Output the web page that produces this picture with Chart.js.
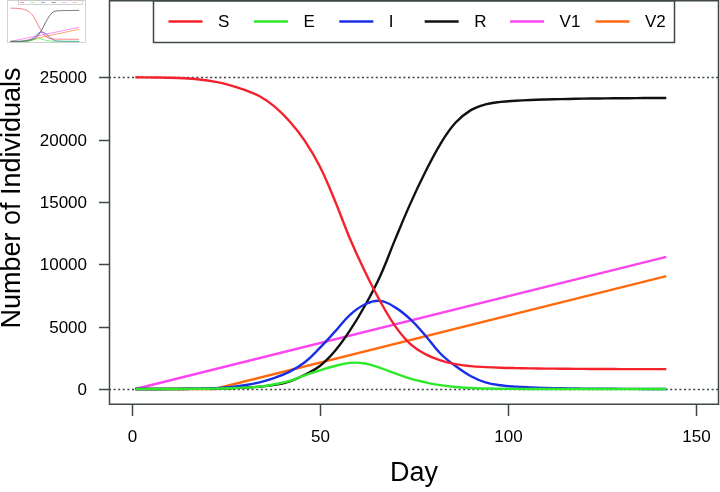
<!DOCTYPE html>
<html>
<head>
<meta charset="utf-8">
<script src="https://cdn.jsdelivr.net/npm/chart.js@4.4.1/dist/chart.umd.min.js"></script>
<style>
  body { margin: 0; background: #fff; }
  #wrap { position: relative; width: 720px; height: 492px; }
  #thumb { position: absolute; left: 0; top: 0; }
</style>
</head>
<body>
<div id="wrap">
  <canvas id="chartJSContainer" width="720" height="492"></canvas>
  <canvas id="thumb" width="90" height="58"></canvas>
</div>
<script>
// days sampled along the curves
var days = [1, 6, 10, 14, 18, 22, 26, 30, 34, 38, 42, 46, 50, 54, 58, 62, 66, 70,
  74, 78, 82, 86, 90, 94, 98, 102, 106, 110, 114, 118, 122, 126, 130, 134, 138, 142];

var susceptible = [25000, 24990, 24970, 24920, 24820, 24650, 24380, 23990, 23480, 22650,
  21450, 19900, 17850, 15100, 12050, 9400, 7050, 5050, 3620, 2800, 2300, 2000, 1840,
  1760, 1710, 1680, 1660, 1640, 1630, 1620, 1610, 1605, 1600, 1600, 1600, 1600];
var exposed = [0, 2, 5, 10, 20, 35, 60, 110, 190, 380, 650, 1100, 1500, 1850, 2100,
  2050, 1690, 1250, 830, 540, 310, 160, 80, 40, 20, 10, 6, 4, 2, 1, 1, 0, 0, 0, 0, 0];
var infected = [2, 5, 10, 20, 35, 70, 150, 300, 540, 900, 1400, 2150, 3300, 4600, 5950,
  6800, 7070, 6550, 5600, 4300, 2850, 1850, 1050, 540, 300, 190, 130, 90, 60, 40, 30,
  20, 15, 10, 8, 5];
var recovered = [0, 0, 2, 5, 15, 30, 60, 110, 190, 330, 620, 1150, 1850, 3050, 4700,
  6700, 9050, 12000, 14850, 17400, 19650, 21350, 22350, 22830, 23030, 23120, 23180,
  23220, 23250, 23280, 23300, 23310, 23320, 23330, 23340, 23340];

// the two vaccine lines are straight, so only their corners are listed
var v1Days = [1, 142];
var v1 = [0, 10600];
var v2Days = [1, 22, 142];
var v2 = [0, 0, 9050];

var seriesNames = ['S', 'E', 'I', 'R', 'V1', 'V2'];
var colours = ['#f5222d', '#2ee82a', '#1a2ee6', '#111111', '#fb45ef', '#ff6a10'];

var xTicks = [0, 50, 100, 150];
var yTicks = [0, 5000, 10000, 15000, 20000, 25000];
var refLines = [25000, 0];

var FONT = '"Liberation Sans", Arial, Helvetica, sans-serif';

function pts(xs, ys) {
  return xs.map((x, i) => ({ x: x, y: ys[i] }));
}

function buildDatasets(width, alpha) {
  var sets = [
    pts(days, susceptible), pts(days, exposed), pts(days, infected),
    pts(days, recovered), pts(v1Days, v1), pts(v2Days, v2)
  ];
  return sets.map((d, i) => ({
    label: seriesNames[i],
    data: d,
    borderColor: colours[i] + alpha,
    borderWidth: width,
    pointRadius: 0,
    fill: false,
    tension: i < 4 ? 0.4 : 0
  }));
}

const frame = {
  id: 'frame',
  beforeDatasetsDraw(chart) {
    const ctx = chart.ctx, a = chart.chartArea, y = chart.scales.y;
    ctx.save();
    ctx.strokeStyle = '#3a4444';
    ctx.lineWidth = 1.3;
    ctx.setLineDash([2, 2.6]);
    refLines.forEach(v => {
      let py = Math.round(y.getPixelForValue(v)) + 0.5;
      ctx.beginPath();
      ctx.moveTo(a.left, py);
      ctx.lineTo(a.right, py);
      ctx.stroke();
    });
    ctx.restore();
  },
  afterDatasetsDraw(chart) {
    const ctx = chart.ctx, a = chart.chartArea;
    const xs = chart.scales.x, ys = chart.scales.y;
    ctx.save();
    ctx.strokeStyle = '#3f4747';
    ctx.lineWidth = 1.5;
    ctx.strokeRect(a.left + 0.5, a.top + 0.75, a.right - a.left - 1, a.bottom - a.top - 0.5);

    // y axis
    ctx.fillStyle = '#000';
    ctx.font = '17px ' + FONT;
    ctx.textAlign = 'right';
    ctx.textBaseline = 'middle';
    yTicks.forEach(v => {
      let py = Math.round(ys.getPixelForValue(v)) + 0.5;
      ctx.beginPath();
      ctx.moveTo(a.left - 10, py);
      ctx.lineTo(a.left, py);
      ctx.stroke();
      ctx.fillText(String(v), a.left - 22, py + 1);
    });

    // x axis
    ctx.textAlign = 'center';
    xTicks.forEach(v => {
      let px = Math.round(xs.getPixelForValue(v)) + 0.5;
      ctx.beginPath();
      ctx.moveTo(px, a.bottom);
      ctx.lineTo(px, a.bottom + 12);
      ctx.stroke();
      ctx.fillText(String(v), px, 437);
    });

    // titles
    ctx.font = '27px ' + FONT;
    ctx.fillText('Day', (a.left + a.right) / 2, 474);
    ctx.save();
    ctx.translate(19.5, 198);
    ctx.rotate(-Math.PI / 2);
    ctx.textBaseline = 'alphabetic';
    ctx.fillText('Number of Individuals', 0, 0);
    ctx.restore();

    // legend in the R style
    ctx.strokeStyle = '#3f4747';
    ctx.lineWidth = 1.5;
    ctx.strokeRect(153.5, 0.75, 521, 41.75);
    ctx.font = '17px ' + FONT;
    ctx.textAlign = 'left';
    ctx.textBaseline = 'middle';
    chart.data.datasets.forEach((ds, i) => {
      let lx = 168.5 + i * 85.4;
      ctx.strokeStyle = colours[i];
      ctx.lineWidth = 2.6;
      ctx.beginPath();
      ctx.moveTo(lx, 21.5);
      ctx.lineTo(lx + 34, 21.5);
      ctx.stroke();
      ctx.fillStyle = '#000';
      ctx.fillText(ds.label, lx + 49.5, 22.5);
    });
    ctx.restore();
  }
};

const ctx = document.getElementById('chartJSContainer').getContext('2d');
const chart = new Chart(ctx, {
  type: 'line',
  data: { datasets: buildDatasets(2.4, '') },
  options: {
    responsive: false,
    animation: false,
    layout: { padding: { left: 109, right: 1, top: 0, bottom: 88 } },
    scales: {
      x: { type: 'linear', min: -6, max: 156, display: false },
      y: { min: -1200, max: 31200, display: false }
    },
    plugins: { legend: { display: false }, tooltip: { enabled: false } }
  },
  plugins: [frame]
});

// small washed-out copy of the figure in the top left corner
const thumbFrame = {
  id: 'thumbFrame',
  afterDatasetsDraw(c) {
    const t = c.ctx, a = c.chartArea;
    t.save();
    t.strokeStyle = '#c8c8c8';
    t.lineWidth = 0.8;
    t.strokeRect(a.left + 0.5, a.top + 0.5, a.right - a.left - 1, a.bottom - a.top - 1);
    t.strokeRect(18.5, 0.5, 64, 4);
    colours.forEach((col, i) => {
      t.strokeStyle = col + '88';
      t.beginPath();
      t.moveTo(20 + i * 10.5, 2.5);
      t.lineTo(24 + i * 10.5, 2.5);
      t.stroke();
    });
    t.restore();
  }
};

new Chart(document.getElementById('thumb').getContext('2d'), {
  type: 'line',
  data: { datasets: buildDatasets(0.9, 'aa') },
  options: {
    responsive: false,
    animation: false,
    layout: { padding: { left: 7, right: 4, top: 0, bottom: 15 } },
    scales: {
      x: { type: 'linear', min: -6, max: 156, display: false },
      y: { min: -1200, max: 31200, display: false }
    },
    plugins: { legend: { display: false }, tooltip: { enabled: false } }
  },
  plugins: [thumbFrame]
});
</script>
</body>
</html>
